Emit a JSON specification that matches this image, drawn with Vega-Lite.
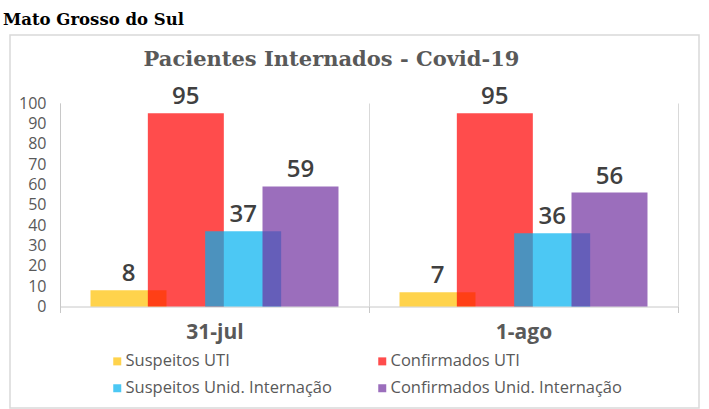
{
  "$schema": "https://vega.github.io/schema/vega-lite/v6.json",
  "autosize": "none",
  "padding": {"left": 10, "top": 35, "right": 10, "bottom": 1},
  "width": 689,
  "height": 373,
  "background": "white",
  "title": {"text": "Mato Grosso do Sul", "anchor": "start", "frame": "group", "font": "DejaVu Serif", "fontSize": 16.5, "fontWeight": "bold", "color": "#000000", "baseline": "alphabetic", "dx": -7, "offset": -6},
  "config": {
    "view": {"stroke": "#d9d9d9", "strokeWidth": 1.5},
    "font": "Open Sans"
  },
  "data": {
    "values": [
      {"data": "31-jul", "serie": "Suspeitos UTI", "valor": 8},
      {"data": "31-jul", "serie": "Confirmados UTI", "valor": 95},
      {"data": "31-jul", "serie": "Suspeitos Unid. Internação", "valor": 37},
      {"data": "31-jul", "serie": "Confirmados Unid. Internação", "valor": 59},
      {"data": "1-ago", "serie": "Suspeitos UTI", "valor": 7},
      {"data": "1-ago", "serie": "Confirmados UTI", "valor": 95},
      {"data": "1-ago", "serie": "Suspeitos Unid. Internação", "valor": 36},
      {"data": "1-ago", "serie": "Confirmados Unid. Internação", "valor": 56}
    ]
  },
  "encoding": {
    "xOffset": {
      "field": "serie", "type": "nominal",
      "sort": ["Suspeitos UTI", "Confirmados UTI", "Suspeitos Unid. Internação", "Confirmados Unid. Internação"],
      "scale": {"paddingInner": 0, "paddingOuter": 0.695}
    },
    "y": {
      "field": "valor", "type": "quantitative",
      "scale": {"domain": [0, 100], "range": [271.5, 68], "nice": false},
      "axis": {"title": null, "orient": "left", "offset": -50, "values": [0, 10, 20, 30, 40, 50, 60, 70, 80, 90, 100], "ticks": false, "labelPadding": 14, "labelFont": "Open Sans", "labelFontSize": 16, "labelColor": "#595959", "domainColor": "#c8c8c8", "grid": false}
    }
  },
  "layer": [
    {
      "mark": {"type": "bar", "width": 76, "opacity": 0.7},
      "encoding": {
        "x": {
          "field": "data", "type": "nominal", "sort": ["31-jul", "1-ago"],
          "scale": {"range": [50, 668], "paddingInner": 0, "paddingOuter": 0},
          "axis": {"title": null, "orient": "bottom", "offset": -101.5, "labelAngle": 0, "labelFont": "Open Sans", "labelFontSize": 21, "labelFontWeight": "bold", "labelColor": "#595959", "labelPadding": 9, "tickBand": "extent", "tickSize": 6, "tickColor": "#c8c8c8", "domainColor": "#c8c8c8", "grid": false}
        },
        "color": {
          "field": "serie", "type": "nominal",
          "scale": {"domain": ["Suspeitos UTI", "Confirmados UTI", "Suspeitos Unid. Internação", "Confirmados Unid. Internação"], "range": ["#FFC000", "#FF0000", "#00B0F0", "#7030A0"]},
          "legend": {"title": null, "orient": "none", "direction": "horizontal", "legendX": 99, "legendY": 318, "columns": 2, "columnPadding": 42, "rowPadding": 10, "padding": 0, "symbolType": "square", "symbolSize": 64, "symbolStrokeWidth": 0, "labelFont": "Open Sans", "labelFontSize": 16.5, "labelColor": "#595959", "labelOffset": 0, "labelLimit": 400}
        }
      }
    },
    {
      "mark": {"type": "text", "baseline": "alphabetic", "dy": -9, "font": "Open Sans", "fontSize": 24, "fontWeight": 600, "color": "#404040"},
      "encoding": {
        "x": {
          "field": "data", "type": "nominal", "sort": ["31-jul", "1-ago"],
          "axis": {"title": "Pacientes Internados - Covid-19", "orient": "top", "offset": -68, "labels": false, "ticks": true, "tickBand": "extent", "tickSize": -203.5, "tickColor": "#d9d9d9", "domain": false, "grid": false, "titleFont": "DejaVu Serif", "titleFontSize": 21, "titleFontWeight": "bold", "titleColor": "#595959", "titleBaseline": "alphabetic", "titleAlign": "center", "titleAnchor": "start", "titleX": 321, "titleY": -38}
        },
        "text": {"field": "valor", "type": "quantitative"}
      }
    }
  ],
  "resolve": {"axis": {"x": "independent"}}
}
